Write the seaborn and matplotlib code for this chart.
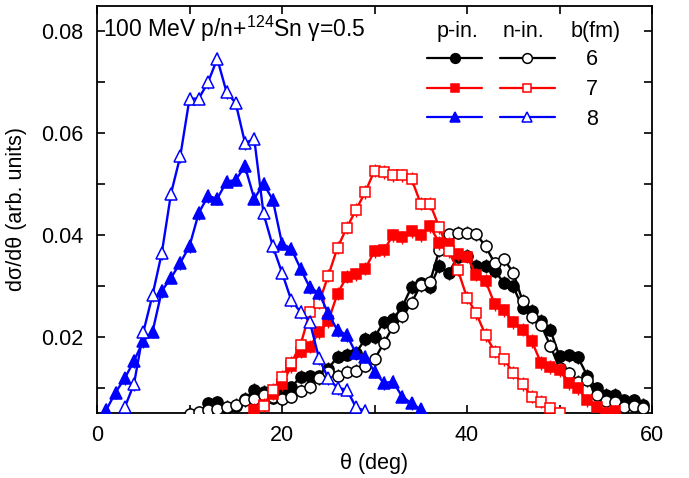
import numpy as np
import matplotlib
matplotlib.use("Agg")
import matplotlib.pyplot as plt
import seaborn as sns
from matplotlib.ticker import MultipleLocator, FuncFormatter
from matplotlib.lines import Line2D

# angle grids (deg) where each series starts
theta_b6_p = np.arange(12, 60)
theta_b6_n = np.arange(10, 60)
theta_b7_p = np.arange(17, 57)
theta_b7_n = np.arange(18, 51)
theta_b8_p = np.arange(1, 36)
theta_b8_n = np.arange(3, 30)

# b = 6 fm
b6_p = [0.0071, 0.0073, 0.0062, 0.0066, 0.0080, 0.0097, 0.0094, 0.0082, 0.0090, 0.0102,
        0.0123, 0.0124, 0.0124, 0.0139, 0.0162, 0.0166, 0.0170, 0.0197, 0.0201, 0.0230,
        0.0236, 0.0260, 0.0299, 0.0306, 0.0299, 0.0340, 0.0326, 0.0358, 0.0360, 0.0340,
        0.0340, 0.0330, 0.0307, 0.0300, 0.0258, 0.0252, 0.0232, 0.0215, 0.0163, 0.0165,
        0.0161, 0.0125, 0.0100, 0.0087, 0.0087, 0.0077, 0.0077, 0.0068]
b6_n = [0.0050, 0.0053, 0.0057, 0.0060, 0.0064, 0.0068, 0.0077, 0.0080, 0.0087, 0.0083,
        0.0079, 0.0084, 0.0096, 0.0102, 0.0120, 0.0133, 0.0125, 0.0133, 0.0135, 0.0145,
        0.0157, 0.0189, 0.0221, 0.0242, 0.0268, 0.0303, 0.0309, 0.0371, 0.0402, 0.0405,
        0.0405, 0.0402, 0.0379, 0.0345, 0.0353, 0.0327, 0.0272, 0.0240, 0.0225, 0.0184,
        0.0140, 0.0130, 0.0113, 0.0116, 0.0088, 0.0075, 0.0074, 0.0064, 0.0065, 0.0062]

# b = 7 fm
b7_p = [0.0058, 0.0068, 0.0090, 0.0108, 0.0144, 0.0172, 0.0182, 0.0210, 0.0232, 0.0286,
        0.0319, 0.0324, 0.0335, 0.0369, 0.0371, 0.0400, 0.0396, 0.0408, 0.0400, 0.0418,
        0.0385, 0.0384, 0.0363, 0.0358, 0.0323, 0.0311, 0.0265, 0.0253, 0.0230, 0.0215,
        0.0193, 0.0150, 0.0142, 0.0136, 0.0110, 0.0100, 0.0077, 0.0063, 0.0052, 0.0055]
b7_n = [0.0066, 0.0097, 0.0123, 0.0150, 0.0185, 0.0249, 0.0268, 0.0321, 0.0376,
        0.0415, 0.0450, 0.0485, 0.0527, 0.0524, 0.0518, 0.0518, 0.0511, 0.0462, 0.0462,
        0.0416, 0.0369, 0.0333, 0.0278, 0.0247, 0.0205, 0.0172, 0.0157, 0.0131, 0.0109,
        0.0084, 0.0074, 0.0061, 0.0052]

# b = 8 fm
b8_p = [0.0058, 0.0092, 0.0120, 0.0154, 0.0193, 0.0211, 0.0291, 0.0317, 0.0346, 0.0379,
        0.0444, 0.0477, 0.0472, 0.0505, 0.0509, 0.0535, 0.0472, 0.0501, 0.0470, 0.0384,
        0.0374, 0.0335, 0.0298, 0.0287, 0.0247, 0.0214, 0.0205, 0.0169, 0.0162, 0.0133,
        0.0111, 0.0113, 0.0084, 0.0071, 0.0059]
b8_n = [0.0063, 0.0109, 0.0210, 0.0283, 0.0365, 0.0482, 0.0555, 0.0668, 0.0668, 0.0700,
        0.0746, 0.0681, 0.0659, 0.0581, 0.0589, 0.0443, 0.0379, 0.0327, 0.0273, 0.0250,
        0.0231, 0.0159, 0.0120, 0.0101, 0.0098, 0.0063, 0.0056]

err = 0.0013  # typical statistical error bar
b_labels = ["6", "7", "8"]

sns.set_theme(style="ticks")
plt.rcParams["font.family"] = ["Liberation Sans", "DejaVu Sans"]
plt.rcParams["font.size"] = 15.5
plt.rcParams["text.color"] = "black"
plt.rcParams["axes.labelcolor"] = "black"

fig = plt.figure(figsize=(6.89, 4.78), dpi=100)
ax = fig.add_axes([0.1408, 0.136, 0.8055, 0.852])

series = [
    (theta_b6_p, b6_p, "black", "o", True, 8),
    (theta_b6_n, b6_n, "black", "o", False, 8),
    (theta_b7_p, b7_p, "red", "s", True, 7),
    (theta_b7_n, b7_n, "red", "s", False, 7),
    (theta_b8_p, b8_p, "blue", "^", True, 8.5),
    (theta_b8_n, b8_n, "blue", "^", False, 8.5),
]

handles = []
for i, (th, vals, col, mk, filled, ms) in enumerate(series):
    ax.errorbar(th, vals, yerr=err, fmt="none", ecolor=col, elinewidth=1.0,
                capsize=0, zorder=2 + i)
    sns.lineplot(x=th, y=vals, ax=ax, color=col, linewidth=1.7,
                 marker=mk, markersize=ms,
                 markerfacecolor=col if filled else "white",
                 markeredgecolor=col, markeredgewidth=1.1, zorder=3 + i)
    handles.append(Line2D([], [], color=col, linewidth=1.6, marker=mk,
                          markersize=ms - 1,
                          markerfacecolor=col if filled else "white",
                          markeredgecolor=col, markeredgewidth=1.1))

ax.set_xlim(0, 60)
ax.set_ylim(0.0052, 0.085)
ax.xaxis.set_major_locator(MultipleLocator(20))
ax.xaxis.set_minor_locator(MultipleLocator(10))
ax.yaxis.set_major_locator(MultipleLocator(0.02))
ax.yaxis.set_minor_locator(MultipleLocator(0.01))
ax.yaxis.set_major_formatter(FuncFormatter(lambda v, p: f"{v:.2f}"))
ax.tick_params(which="both", direction="in", top=True, right=True,
               length=6, width=1.2, labelsize=15.5, colors="black")
ax.tick_params(axis="y", which="major", pad=10)
ax.tick_params(axis="x", which="major", pad=9)
for sp in ax.spines.values():
    sp.set_linewidth(1.3)
    sp.set_color("black")

ax.set_xlabel("θ (deg)", fontsize=15.5, labelpad=5)
ax.set_ylabel("dσ/dθ (arb. units)", fontsize=15.5, labelpad=10)

ax.text(0.010, 0.944, "100 MeV p/n+$^{\\mathregular{124}}$Sn γ=0.5",
        transform=ax.transAxes, fontsize=16.5, va="center", ha="left")

# column headers of the legend block
ax.text(0.649, 0.936, "p-in.", transform=ax.transAxes, ha="center", va="center")
ax.text(0.768, 0.936, "n-in.", transform=ax.transAxes, ha="center", va="center")
ax.text(0.899, 0.936, "b(fm)", transform=ax.transAxes, ha="center", va="center")

leg_kw = dict(frameon=False, handlelength=2.55, labelspacing=0.41,
              borderpad=0, borderaxespad=0, fontsize=15.5, loc="upper left")
leg1 = ax.legend(handles[0::2], [" "] * 3, bbox_to_anchor=(0.595, 0.893),
                 handletextpad=0, **leg_kw)
ax.add_artist(leg1)
ax.legend(handles[1::2], b_labels, bbox_to_anchor=(0.726, 0.893),
          handletextpad=1.45, **leg_kw)

fig.savefig("out.png", dpi=100)
